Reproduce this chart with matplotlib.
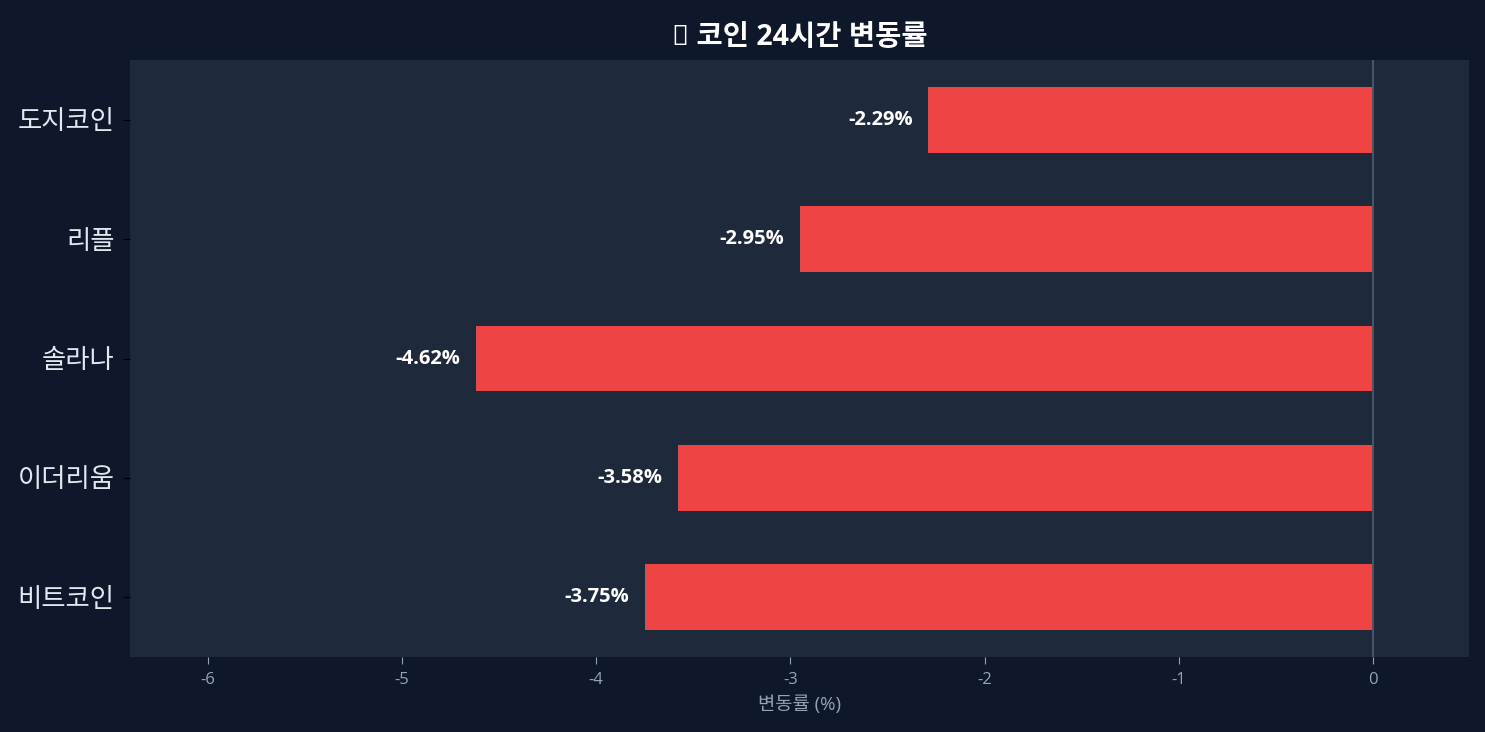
import matplotlib
matplotlib.use("Agg")
import matplotlib.pyplot as plt

plt.rcParams['font.family'] = ['Open Sans', 'Noto Sans CJK KR', 'DejaVu Sans']
plt.rcParams['axes.unicode_minus'] = False

coins = ['비트코인', '이더리움', '솔라나', '리플', '도지코인']
changes = [-3.75, -3.58, -4.62, -2.95, -2.29]

bg = '#0f172a'
panel = '#1e293b'
bar_color = ['#ef4444' if v < 0 else '#22c55e' for v in changes]

fig = plt.figure(figsize=(14.85, 7.32), dpi=100, facecolor=bg)
ax = fig.add_axes([130 / 1485, 1 - 657 / 732, (1469 - 130) / 1485, (657 - 60) / 732])
ax.set_facecolor(panel)

ypos = list(range(len(coins)))
ax.barh(ypos, changes, height=0.55, color=bar_color, zorder=2)
ax.axvline(0, color='#475569', linewidth=1.5, zorder=3)

# 막대 끝에 변동률 표시
for y, v in zip(ypos, changes):
    ax.text(v - 0.08, y, f'{v:.2f}%', ha='right', va='center',
            color='white', fontsize=14.5, fontweight='bold')

ax.set_xlim(-6.40, 0.494)
ax.set_ylim(-0.5, 4.5)
ax.set_yticks(ypos)
ax.set_yticklabels(coins, fontsize=19, color='#e2e8f0')
ax.tick_params(axis='y', colors='black', labelcolor='#e2e8f0', length=5, pad=6)
ax.set_xticks([-6, -5, -4, -3, -2, -1, 0])
ax.tick_params(axis='x', colors='#94a3b8', labelsize=12, length=5, pad=6)
ax.set_xlabel('변동률 (%)', color='#94a3b8', fontsize=13.5, labelpad=5)

for s in ax.spines.values():
    s.set_visible(False)

ax.set_title('🪙 코인 24시간 변동률', color='white', fontsize=20.5,
             fontweight='bold', pad=11)

fig.savefig('out.png', dpi=100, facecolor=bg)
